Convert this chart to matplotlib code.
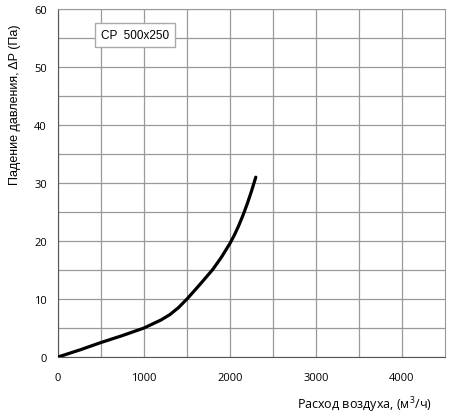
import matplotlib
matplotlib.use("Agg")
import matplotlib.pyplot as plt
import numpy as np

# airflow (m3/h) vs pressure drop (Pa)
flow = [0, 250, 500, 750, 1000, 1100, 1200, 1300, 1400, 1500, 1650, 1800, 1900,
        2000, 2050, 2100, 2150, 2200, 2250, 2300]
dp = [0, 1.2, 2.5, 3.7, 5.0, 5.7, 6.4, 7.3, 8.5, 10.0, 12.5, 15.1, 17.2,
      19.6, 21.0, 22.6, 24.4, 26.4, 28.6, 31.0]
xticks = [0, 1000, 2000, 3000, 4000]
yticks = [0, 10, 20, 30, 40, 50, 60]
label = "CP  500x250"

plt.rcParams['mathtext.fontset'] = 'custom'
plt.rcParams['mathtext.rm'] = 'Open Sans'

fig = plt.figure(figsize=(4.5, 4.14), dpi=100)
ax = fig.add_axes([58/450, 56/414, 387/450, 348/414])

ax.plot(flow, dp, color='black', lw=2.3, solid_capstyle='round',
        solid_joinstyle='round', zorder=3)

ax.set_xlim(0, 4500)
ax.set_ylim(0, 60)
ax.set_xticks(xticks)
ax.set_xticks(np.arange(500, 4500, 1000), minor=True)
ax.set_yticks(yticks)
ax.set_yticks(np.arange(5, 60, 10), minor=True)
ax.grid(True, which='both', color='#999999', lw=0.9)
ax.tick_params(which='both', length=0)
ax.tick_params(axis='x', pad=11)
ax.tick_params(axis='y', pad=8)
for t in ax.get_xticklabels() + ax.get_yticklabels():
    t.set_fontfamily('Open Sans')
    t.set_fontsize(8)
for s in ax.spines.values():
    s.set_color('#999999')
ax.spines['left'].set_color('#555555')
ax.spines['bottom'].set_color('#555555')

ax.text(500, 55.5, label, fontsize=8.5, family='Liberation Sans', va='center', ha='left',
        bbox=dict(boxstyle='square,pad=0.5', fc='white', ec='#aaaaaa', lw=1))

fig.text(15/450, 1 - 105/414, "Падение давления, ΔP (Па)", rotation=90,
         family='Liberation Sans', fontsize=9, ha='center', va='center')
fig.text(432/450, 1 - 405/414, "Расход воздуха, (м$^3$/ч)",
         family='Open Sans', fontsize=9, ha='right', va='center')

fig.savefig("out.png", dpi=100)
